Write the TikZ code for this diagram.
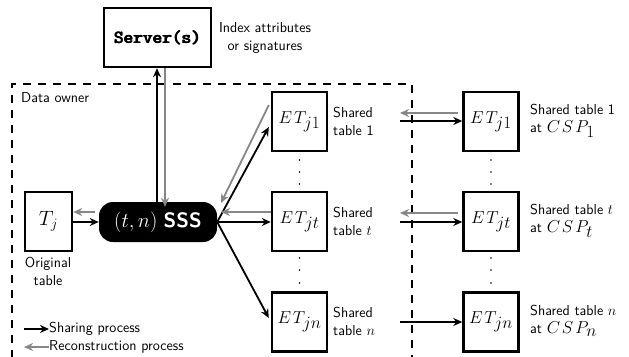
\documentclass[tikz,border=0pt]{standalone}
\usetikzlibrary{arrows.meta}
\definecolor{rgray}{RGB}{135,135,135}
\newcommand\fbold[1]{\rlap{#1}\kern0.45pt\rlap{#1}\kern0.45pt#1}
\newcommand\etx[1]{$E\mkern2mu T_{\textstyle #1}$}
\newcommand\cspx[1]{\mbox{\LARGE$C\mkern2mu S\mkern2mu P_{\textstyle #1}$}}
\tikzset{
  bx/.style={draw, line width=2.4pt, minimum width=55pt, minimum height=59pt, inner sep=0pt, font=\LARGE},
  lab/.style={font=\sffamily\Large, align=left, inner sep=0pt, anchor=west},
  sh/.style={line width=1.8pt, -{Stealth[length=9pt,width=8pt]}},
  rc/.style={line width=1.8pt, draw=rgray, -{Stealth[length=9pt,width=8pt]}},
  dotc/.style={fill=black, circle, inner sep=0pt, minimum size=1.6pt}
}
\begin{document}
\begin{tikzpicture}[x=1pt,y=-1pt]
\useasboundingbox (0,0) rectangle (629,356);
% data owner border
\draw[line width=1.1pt, dash pattern=on 8pt off 7pt] (12,358) -- (12,84) -- (412,84) -- (412,358);
\node[lab] (do) at (21,98) {Data owner};
% server
\node[draw, line width=2.4pt, minimum width=107pt, minimum height=59pt, font=\ttfamily\bfseries\fontsize{18.4}{20}\selectfont] (srv) at (157.5,37.5) {\fbold{Server(s)}};
\node[lab, anchor=center, align=center] (idx) at (265,38) {Index attributes\\or signatures};
% T_j
\node[bx, minimum width=47pt, font=\huge] (tj) at (48.5,221.5) {$T_j$};
\node[lab, anchor=center, align=center] (orig) at (48,271) {Original\\table};
% SSS
\node[fill=black, text=white, rounded corners=14pt, minimum width=118pt, minimum height=40pt, inner sep=0pt, font=\huge] (sss) at (158,222) {$(t,n)$ \textsf{\bfseries SSS}};
% ET boxes
\node[bx] (e1) at (299.5,121.5) {\etx{j1}};
\node[bx] (et) at (299.5,221.5) {\etx{jt}};
\node[bx] (en) at (299.5,322) {\etx{jn}};
\node[bx] (c1) at (491,121.5) {\etx{j1}};
\node[bx] (ct) at (491,221.5) {\etx{jt}};
\node[bx] (cn) at (491,322) {\etx{jn}};
% labels
\node[lab] (l1) at (333,121) {Shared\\table 1};
\node[lab] (lt) at (333,221) {Shared\\table $t$};
\node[lab] (ln) at (333,321) {Shared\\table $n$};
\node[lab] (r1) at (530,121) {Shared table 1\\ at \cspx{1}};
\node[lab] (rt) at (530,221) {Shared table $t$\\ at \cspx{t}};
\node[lab] (rn) at (530,321) {Shared table $n$\\ at \cspx{n}};
% dots
\foreach \xx in {299.5,491}{
  \foreach \yy in {160,172,184,258,270,283}{
    \node[dotc] at (\xx,\yy) {};
  }
}
% server arrows
\draw[sh] (sss.north -| 157,0) -- (srv.south -| 157,0);
\draw[rc] (srv.south -| 165,0) -- ([yshift=-5pt]sss.north -| 165,0);
% T_j arrows
\draw[sh] (tj.east |- 0,222) -- (sss.west |- 0,222);
\draw[rc] ([xshift=-4pt]sss.west |- 0,212) -- (tj.east |- 0,212);
% SSS to ET
\draw[sh] (sss.east) -- ([xshift=-2pt]e1.west |- 0,127);
\draw[rc] ([xshift=-2pt]e1.west |- 0,105) -- (221,203);
\draw[sh] (sss.east) -- (et.west |- 0,222);
\draw[rc] (et.west |- 0,212) -- (221,212);
\draw[sh] (sss.east) -- ([xshift=-2pt]en.west |- 0,318);
% to CSP
\coordinate (a1) at (400,121);
\coordinate (b1) at (400,113);
\coordinate (at) at (400,222);
\coordinate (bt) at (400,213);
\coordinate (an) at (400,322);
\draw[sh] (a1) -- (c1.west |- a1);
\draw[rc] (c1.west |- b1) ++(-4,0) -- (b1);
\draw[sh] (at) -- (ct.west |- at);
\draw[rc] (ct.west |- bt) ++(-4,0) -- (bt);
\draw[sh] (an) -- (cn.west |- an);
% legend
\coordinate (g1) at (24,329);
\coordinate (g2) at (24,347);
\node[lab] (s1) at (49,329) {Sharing process};
\node[lab] (s2) at (49,347) {Reconstruction process};
\draw[sh] (g1) -- (s1.west);
\draw[rc] (s2.west) -- (g2);
\end{tikzpicture}
\end{document}
